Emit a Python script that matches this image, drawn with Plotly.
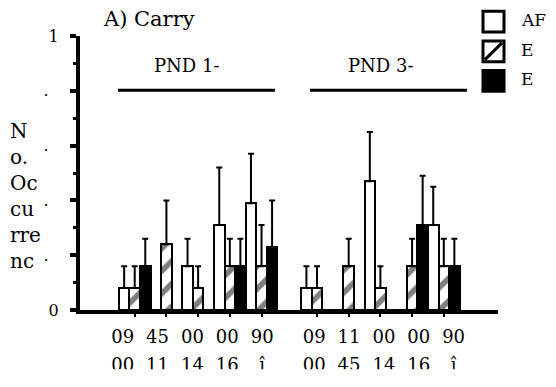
import plotly.graph_objects as go

# ---- data ----
group1_top = ["09", "45", "00", "00", "90"]
group1_bottom = ["00", "11", "14", "16", "î"]
group2_top = ["09", "11", "00", "00", "90"]
group2_bottom = ["00", "45", "14", "16", "î"]
group_names = ["PND 1-", "PND 3-"]
series_names = ["AF", "E", "E"]

af_vals = [0.08, 0, 0.16, 0.31, 0.39, 0.08, 0, 0.47, 0, 0.31]
af_err = [0.08, 0, 0.10, 0.21, 0.18, 0.08, 0, 0.18, 0, 0.14]
e1_vals = [0.08, 0.24, 0.08, 0.16, 0.16, 0.08, 0.16, 0.08, 0.16, 0.16]
e1_err = [0.08, 0.16, 0.08, 0.10, 0.15, 0.08, 0.10, 0.08, 0.10, 0.10]
e2_vals = [0.16, 0, 0, 0.16, 0.23, 0, 0, 0, 0.31, 0.16]
e2_err = [0.10, 0, 0, 0.10, 0.17, 0, 0, 0, 0.18, 0.10]

y_tick_vals = [0, 0.2, 0.4, 0.6, 0.8, 1]
y_tick_text = ["0", ".", ".", ".", ".", "1"]

FONT = "DejaVu Serif"

# ---- positions (layout) ----
n = len(group1_top)
x_pos = [1 + i for i in range(n)] + [6.75 + i for i in range(n)]
label_pos = [0.62 + 1.1 * i for i in range(n)] + [6.66 + 1.1 * i for i in range(n)]
top_text = group1_top + group2_top
bottom_text = group1_bottom + group2_bottom
pad = "\u00a0\u00a0"
y_text = [t if t != "." else t + pad for t in y_tick_text]


def errs(v):
    return [e if e > 0 else None for e in v]


fig = go.Figure()
common_err = dict(type="data", symmetric=False, thickness=2, width=3, color="black")

fig.add_trace(go.Bar(
    x=x_pos, y=af_vals, name=series_names[0],
    marker=dict(color="white", line=dict(color="black", width=2)),
    error_y=dict(array=errs(af_err), arrayminus=[0] * len(af_err), **common_err),
    showlegend=False,
))
fig.add_trace(go.Bar(
    x=x_pos, y=e1_vals, name=series_names[1],
    marker=dict(color="white", line=dict(color="black", width=2),
                pattern=dict(shape="/", fgcolor="black", bgcolor="white", size=16, solidity=0.35)),
    error_y=dict(array=errs(e1_err), arrayminus=[0] * len(e1_err), **common_err),
    showlegend=False,
))
fig.add_trace(go.Bar(
    x=x_pos, y=e2_vals, name=series_names[2],
    marker=dict(color="black", line=dict(color="black", width=2)),
    error_y=dict(array=errs(e2_err), arrayminus=[0] * len(e2_err), **common_err),
    showlegend=False,
))
# invisible carriers for the two label axes
for ax in ["x2", "x3"]:
    fig.add_trace(go.Scatter(x=label_pos, y=[0] * len(label_pos), xaxis=ax, mode="markers",
                             marker=dict(opacity=0), hoverinfo="skip", showlegend=False))

# page has an 8px body margin; figure is sized so the page matches 556x387
OFF = 8
W, H = 556 - OFF, 387 - OFF
L, R, T, B = 80 - OFF, 58, 36 - OFF, 73
XR = [-0.726, 12.46]

label_axis = dict(overlaying="x", matches="x", anchor="y", side="bottom",
                  tickmode="array", tickvals=label_pos, ticks="", showline=False,
                  showgrid=False, zeroline=False,
                  tickfont=dict(family=FONT, size=18, color="black"))

fig.update_layout(
    width=W, height=H,
    margin=dict(l=L, r=R, t=T, b=B),
    paper_bgcolor="white", plot_bgcolor="white",
    barmode="group", bargap=0, bargroupgap=0,
    font=dict(family=FONT, color="black"),
    xaxis=dict(range=XR, showline=True, linewidth=4, linecolor="black",
               ticks="outside", ticklen=3, tickwidth=2, tickcolor="black",
               tickvals=x_pos, showticklabels=False, showgrid=False, zeroline=False),
    xaxis2=dict(ticktext=top_text, ticklabelstandoff=14, **label_axis),
    xaxis3=dict(ticktext=bottom_text, ticklabelstandoff=42, **label_axis),
    yaxis=dict(range=[0, 1], showline=True, linewidth=4, linecolor="black",
               ticks="outside", ticklen=6, tickwidth=4, tickcolor="black",
               tickmode="array", tickvals=y_tick_vals, ticktext=y_text,
               minor=dict(tickvals=[0.1, 0.3, 0.5, 0.7, 0.9], ticks="outside", ticklen=3,
                          tickwidth=3, tickcolor="black"),
               tickfont=dict(family=FONT, size=16, color="black"), ticklabelstandoff=8,
               showgrid=False, zeroline=False),
)

pw, ph = W - L - R, H - T - B


def px_x(p):  # page pixel -> paper
    return (p - OFF - L) / pw


def px_y(p):
    return (H - B - (p - OFF)) / ph


ann = []
# title
ann.append(dict(text="A) Carry", x=px_x(101), y=px_y(19), xref="paper", yref="paper",
                xanchor="left", yanchor="middle", showarrow=False,
                font=dict(family=FONT, size=21, color="black")))
# y title
ann.append(dict(text="N<br>o.<br>Oc<br>cu<br>rre<br>nc", x=px_x(8), y=px_y(198), xref="paper",
                yref="paper", xanchor="left", yanchor="middle", align="left", showarrow=False,
                font=dict(family=FONT, size=20, color="black")))
# group labels and lines
for name, cx, x0, x1 in [(group_names[0], 187, 118, 275), (group_names[1], 381, 310, 467)]:
    ann.append(dict(text=name, x=px_x(cx), y=px_y(66), xref="paper", yref="paper",
                    xanchor="center", yanchor="middle", showarrow=False,
                    font=dict(family=FONT, size=18, color="black")))
    fig.add_shape(type="line", xref="paper", yref="paper", x0=px_x(x0), x1=px_x(x1),
                  y0=px_y(91), y1=px_y(91), line=dict(color="black", width=3))

# legend (manual)
for i, name in enumerate(series_names):
    top = 11 + 30 * i
    fill = "black" if i == 2 else "white"
    fig.add_shape(type="rect", xref="paper", yref="paper", x0=px_x(483), x1=px_x(504),
                  y0=px_y(top), y1=px_y(top + 21), line=dict(color="black", width=3),
                  fillcolor=fill)
    if i == 1:
        fig.add_shape(type="line", xref="paper", yref="paper", x0=px_x(485), x1=px_x(502),
                      y0=px_y(top + 19), y1=px_y(top + 2), line=dict(color="black", width=3))
    ann.append(dict(text=name, x=px_x(519), y=px_y(top + 9), xref="paper", yref="paper",
                    xanchor="left", yanchor="middle", showarrow=False,
                    font=dict(family=FONT, size=17, color="black")))

# the lower label row is cut off at the bottom in the reference
fig.add_shape(type="rect", xref="paper", yref="paper", layer="above",
              x0=px_x(90), x1=px_x(556), y0=px_y(374), y1=px_y(400),
              line=dict(width=0), fillcolor="white")

fig.update_layout(annotations=ann)
fig.write_html("out.html")
